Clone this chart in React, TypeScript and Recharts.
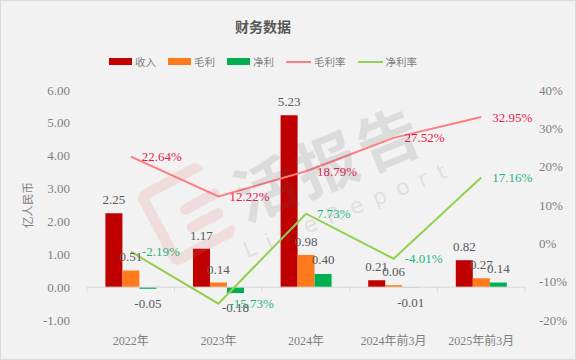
import { ComposedChart, Bar, Line, XAxis, YAxis, LabelList, ReferenceLine } from 'recharts';

const categories = ['2022年', '2023年', '2024年', '2024年前3月', '2025年前3月'];
const revenue = [2.25, 1.17, 5.23, 0.21, 0.82];
const grossProfit = [0.51, 0.14, 0.98, 0.06, 0.27];
const netProfit = [-0.05, -0.18, 0.4, -0.01, 0.14];
const grossMargin = [22.64, 12.22, 18.79, 27.52, 32.95];
const netMargin = [-2.19, -15.73, 7.73, -4.01, 17.16];
const leftTicks = [-1, 0, 1, 2, 3, 4, 5, 6];
const rightTicks = [-20, -10, 0, 10, 20, 30, 40];

const FONT = '"Liberation Serif", "Times New Roman", "DejaVu Serif", "Noto Sans CJK SC", serif';
const CJK = '"Noto Sans CJK SC", sans-serif';

const legendItems = [
  { name: '收入', color: '#c00000', kind: 'bar' },
  { name: '毛利', color: '#ff7a1c', kind: 'bar' },
  { name: '净利', color: '#00b050', kind: 'bar' },
  { name: '毛利率', color: '#ff7c80', kind: 'line' },
  { name: '净利率', color: '#92d050', kind: 'line' },
];

const data = categories.map((c, i) => ({
  name: c,
  收入: revenue[i],
  毛利: grossProfit[i],
  净利: netProfit[i],
  毛利率: grossMargin[i],
  净利率: netMargin[i],
}));

function Watermark() {
  return (
    <div style={{ position: 'absolute', left: 0, top: 0, width: 576, height: 360, pointerEvents: 'none', overflow: 'hidden' }}>
      <div
        style={{
          position: 'absolute', left: 150, top: 172, width: 62, height: 62,
          transform: 'rotate(-28deg)', borderRadius: 10,
          border: '11px solid rgba(225,110,110,0.16)', borderRight: 'none',
        }}
      />
      <div style={{ position: 'absolute', left: 178, top: 196, width: 44, height: 11, borderRadius: 6, background: 'rgba(225,110,110,0.16)', transform: 'rotate(-28deg)' }} />
      <div style={{ position: 'absolute', left: 185, top: 215, width: 40, height: 11, borderRadius: 6, background: 'rgba(225,110,110,0.16)', transform: 'rotate(-28deg)' }} />
      <div
        style={{
          position: 'absolute', left: 228, top: 115, fontFamily: CJK, fontSize: 62, fontWeight: 700,
          color: 'rgba(90,90,90,0.14)', transform: 'rotate(-22deg)', letterSpacing: 4, whiteSpace: 'nowrap',
        }}
      >
        活报告
      </div>
      <div
        style={{
          position: 'absolute', left: 236, top: 196, fontFamily: '"DejaVu Sans", sans-serif', fontSize: 22,
          color: 'rgba(90,90,90,0.14)', transform: 'rotate(-22deg)', letterSpacing: 11, whiteSpace: 'nowrap',
        }}
      >
        LiveReport
      </div>
    </div>
  );
}

export default function App() {
  return (
    <div
      style={{
        position: 'absolute', left: 0, top: 0, width: 576, height: 360, background: '#f2f2f2',
        boxShadow: 'inset 0 0 0 1px #d9d9d9', fontFamily: FONT,
      }}
    >
      <div style={{ position: 'absolute', left: 0, width: 526, top: 16, textAlign: 'center', fontFamily: CJK, fontSize: 14, fontWeight: 700, color: '#595959' }}>
        财务数据
      </div>
      <div style={{ position: 'absolute', left: 0, width: 526, top: 54, display: 'flex', justifyContent: 'center', fontFamily: CJK, fontSize: 10.5, color: '#7f7f7f' }}>
        {legendItems.map((it, i) => (
          <div key={it.name} style={{ display: 'flex', alignItems: 'center', marginRight: i < legendItems.length - 1 ? 12 : 0 }}>
            <span
              style={{
                display: 'inline-block', width: it.kind === 'bar' ? 23 : 25, height: it.kind === 'bar' ? 7 : 2,
                background: it.color, marginRight: 3,
              }}
            />
            {it.name}
          </div>
        ))}
      </div>
      <ComposedChart
        width={576}
        height={360}
        data={data}
        margin={{ top: 90, right: 0, bottom: 10, left: 0 }}
        barCategoryGap="21%"
        barGap={0}
        style={{ position: 'absolute', left: 0, top: 0 }}
      >
        <XAxis
          dataKey="name"
          axisLine={false}
          tickLine={false}
          tickSize={0}
          tickMargin={16}
          height={30}
          tick={{ fill: '#7f7f7f', fontSize: 12, fontFamily: FONT }}
        />
        <YAxis
          yAxisId="left"
          domain={[-1, 6]}
          ticks={leftTicks}
          width={87}
          axisLine={false}
          tickLine={false}
          tickSize={0}
          tickMargin={17}
          tickFormatter={(v: number) => v.toFixed(2)}
          tick={{ fill: '#7f7f7f', fontSize: 13, fontFamily: FONT }}
          label={{ value: '亿人民币', angle: -90, position: 'insideLeft', offset: 28, fill: '#7f7f7f', fontSize: 11.5, fontFamily: CJK, style: { textAnchor: 'middle' } }}
        />
        <YAxis
          yAxisId="right"
          orientation="right"
          domain={[-20, 40]}
          ticks={rightTicks}
          width={51}
          axisLine={false}
          tickLine={false}
          tickSize={0}
          tickMargin={14}
          tickFormatter={(v: number) => `${v}%`}
          tick={{ fill: '#7f7f7f', fontSize: 13, fontFamily: FONT }}
        />
        <ReferenceLine yAxisId="left" y={0} stroke="#d9d9d9" strokeWidth={1} />
        {categories.map((c) => (
          <ReferenceLine
            key={c}
            yAxisId="left"
            position="start"
            segment={[{ x: c, y: 0 }, { x: c, y: -0.16 }]}
            stroke="#d9d9d9"
          />
        ))}
        <ReferenceLine
          yAxisId="left"
          position="end"
          segment={[{ x: categories[categories.length - 1], y: 0 }, { x: categories[categories.length - 1], y: -0.16 }]}
          stroke="#d9d9d9"
        />
        <Bar yAxisId="left" dataKey="收入" fill="#c00000" isAnimationActive={false}>
          <LabelList dataKey="收入" position="top" offset={9} fill="#595959" fontSize={13} fontFamily={FONT} formatter={(v: number) => v.toFixed(2)} />
        </Bar>
        <Bar yAxisId="left" dataKey="毛利" fill="#ff7a1c" isAnimationActive={false}>
          <LabelList dataKey="毛利" position="top" offset={9} fill="#595959" fontSize={13} fontFamily={FONT} formatter={(v: number) => v.toFixed(2)} />
        </Bar>
        <Bar yAxisId="left" dataKey="净利" fill="#00b050" isAnimationActive={false}>
          <LabelList dataKey="净利" position="top" offset={10} fill="#595959" fontSize={13} fontFamily={FONT} formatter={(v: number) => v.toFixed(2)} />
        </Bar>
        <Line yAxisId="right" type="linear" dataKey="毛利率" stroke="#ff7c80" strokeWidth={2} dot={false} isAnimationActive={false}>
          <LabelList dataKey="毛利率" position="right" offset={11} fill="#e8194f" fontSize={13} fontFamily={FONT} formatter={(v: number) => `${v.toFixed(2)}%`} />
        </Line>
        <Line yAxisId="right" type="linear" dataKey="净利率" stroke="#92d050" strokeWidth={2} dot={false} isAnimationActive={false}>
          <LabelList dataKey="净利率" position="right" offset={11} fill="#1fb67a" fontSize={13} fontFamily={FONT} formatter={(v: number) => `${v.toFixed(2)}%`} />
        </Line>
      </ComposedChart>
      <Watermark />
    </div>
  );
}
